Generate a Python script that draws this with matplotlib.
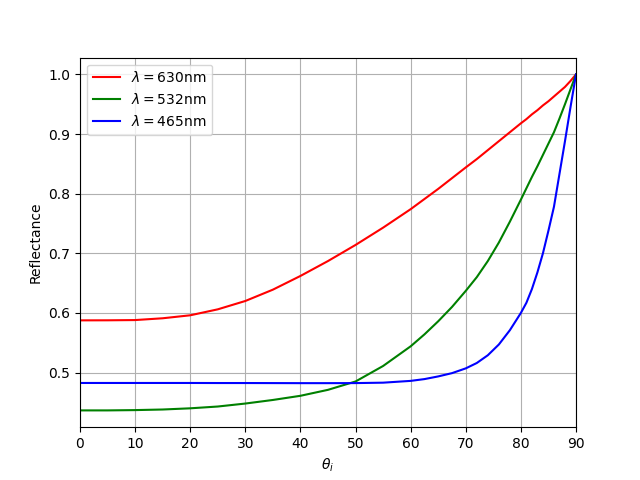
import numpy as np
import matplotlib
matplotlib.use('Agg')
import matplotlib.pyplot as plt

# angles d'incidence (deg) et reflectances
theta = [0, 5, 10, 15, 20, 25, 30, 35, 40, 45, 50, 55, 60, 62.5, 65, 67.5, 70,
         72, 74, 76, 78, 80, 81, 82, 83, 84, 85, 86, 87, 88, 89, 90]
R_630 = [0.5875, 0.5876, 0.588, 0.591, 0.596, 0.606, 0.620, 0.639, 0.662,
         0.687, 0.714, 0.743, 0.774, 0.791, 0.808, 0.826, 0.844,
         0.858, 0.873, 0.888, 0.903, 0.918, 0.925, 0.933, 0.940, 0.948,
         0.955, 0.963, 0.971, 0.979, 0.989, 1.0]
R_532 = [0.4365, 0.4365, 0.437, 0.438, 0.440, 0.443, 0.448, 0.454, 0.461,
         0.471, 0.485, 0.511, 0.544, 0.564, 0.586, 0.610, 0.637,
         0.660, 0.687, 0.718, 0.753, 0.790, 0.809, 0.828, 0.846, 0.865,
         0.884, 0.903, 0.926, 0.950, 0.975, 1.0]
R_465 = [0.4825, 0.4825, 0.4825, 0.4825, 0.4825, 0.4824, 0.4824, 0.4823,
         0.4822, 0.4822, 0.4823, 0.483, 0.486, 0.489, 0.4935, 0.499, 0.507,
         0.516, 0.529, 0.547, 0.571, 0.600, 0.617, 0.640, 0.668, 0.700,
         0.738, 0.778, 0.833, 0.888, 0.945, 1.0]

plt.figure(figsize=(6.4, 4.8), dpi=100)
plt.plot(theta, R_630, 'r', label=r'$\lambda = 630$nm')
plt.plot(theta, R_532, 'g', label=r'$\lambda = 532$nm')
plt.plot(theta, R_465, 'b', label=r'$\lambda = 465$nm')
plt.xlim(0, 90)
plt.xlabel(r'$\theta_i$')
plt.ylabel('Reflectance')
plt.grid(True)
plt.legend(loc='upper left')
plt.savefig('out.png')
